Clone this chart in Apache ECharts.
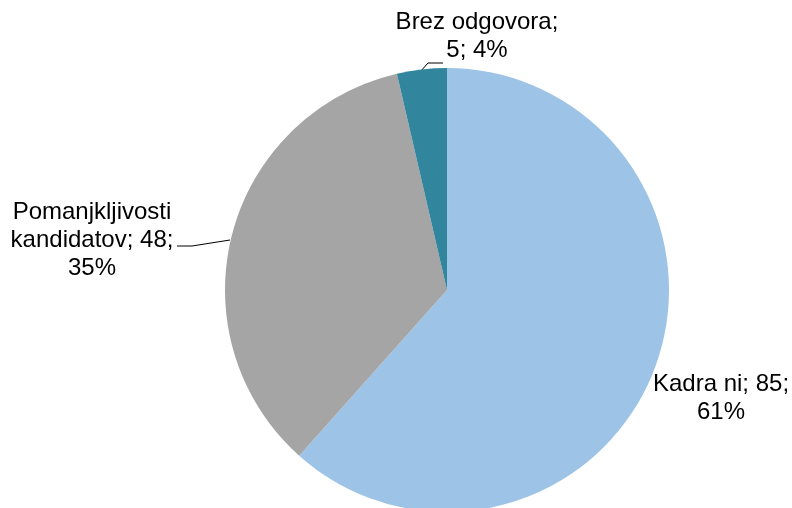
<!DOCTYPE html>
<html>
<head>
<meta charset="utf-8">
<script src="https://cdn.jsdelivr.net/npm/echarts@6/dist/echarts.min.js"></script>
<style>
  html, body { margin: 0; padding: 0; background: #fff; }
  #chart { width: 792px; height: 508px; }
</style>
</head>
<body>
<div id="chart"></div>
<script>
// data
var names = ['Kadra ni', 'Pomanjkljivosti kandidatov', 'Brez odgovora'];
var values = [85, 48, 5];
var labelTexts = ['Kadra ni; 85;\n61%', 'Pomanjkljivosti\nkandidatov; 48;\n35%', 'Brez odgovora;\n5; 4%'];
var colors = ['#9DC3E6', '#A5A5A5', '#31859C'];

// where each label sits (centre of the text block) and its leader line
var labelPos = [[721, 398], [92, 240], [477, 36]];
var leaderLines = [
    null,
    [[230, 240], [192, 246], [177, 246]],
    [[420, 72], [428, 63], [443, 63]]
];

var chart = echarts.init(document.getElementById('chart'));

var pieData = names.map(function (n, i) {
    return {
        name: n,
        value: values[i],
        itemStyle: { color: colors[i] },
        labelLine: { show: i !== 0 }
    };
});

chart.setOption({
    animation: false,
    series: [
        {
            type: 'pie',
            center: [447, 290],
            radius: 222,
            startAngle: 90,
            clockwise: true,
            data: pieData,
            label: {
                show: true,
                position: 'outside',
                formatter: function (p) { return labelTexts[p.dataIndex]; },
                fontFamily: 'Liberation Sans, Arial, sans-serif',
                fontSize: 24,
                lineHeight: 28,
                color: '#000',
                align: 'center',
                overflow: 'none'
            },
            labelLine: {
                show: true,
                length: 10,
                length2: 14,
                lineStyle: { color: '#000', width: 1 }
            },
            labelLayout: function (p) {
                var o = {
                    x: labelPos[p.dataIndex][0],
                    y: labelPos[p.dataIndex][1],
                    align: 'center',
                    verticalAlign: 'middle'
                };
                if (leaderLines[p.dataIndex]) o.labelLinePoints = leaderLines[p.dataIndex];
                return o;
            },
            emphasis: { disabled: true }
        }
    ]
});
</script>
</body>
</html>
